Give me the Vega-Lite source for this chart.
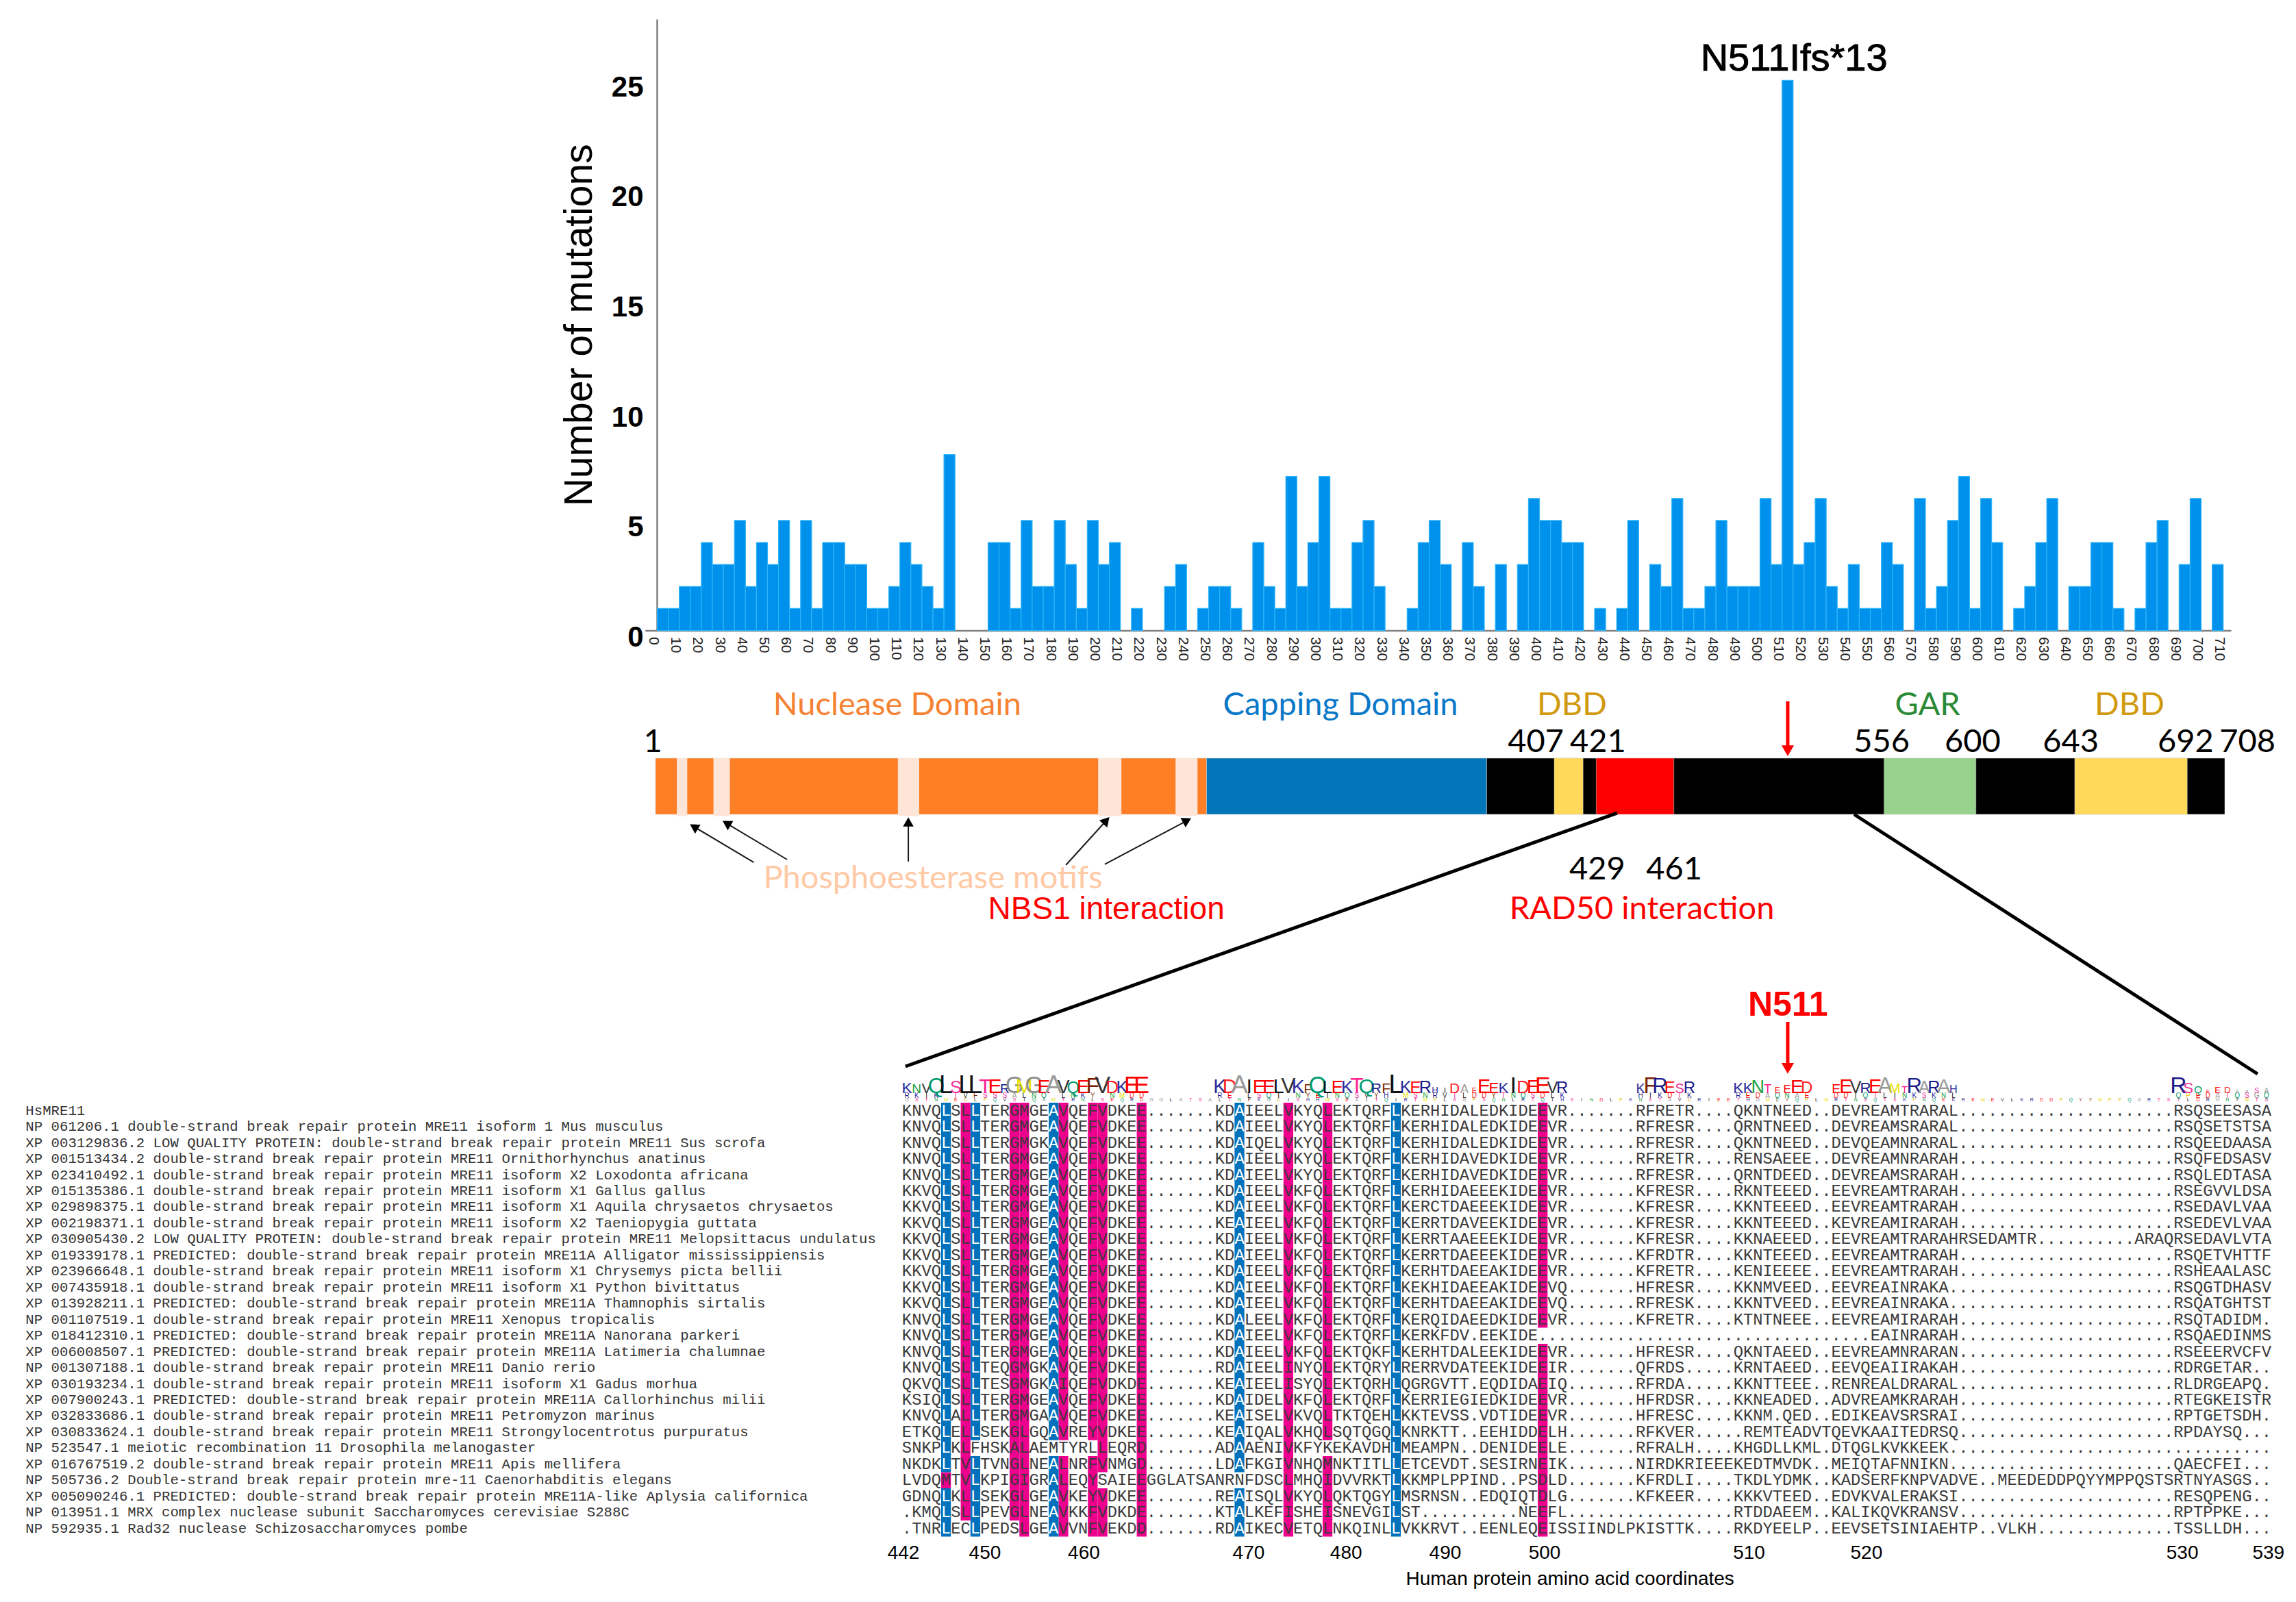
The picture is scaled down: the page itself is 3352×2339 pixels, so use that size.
{
"$schema":"https://vega.github.io/schema/vega-lite/v6.json",
"width":3352,"height":2339,"padding":0,"autosize":{"type":"none"},"background":"white",
"config":{"view":{"stroke":null}},
"datasets":{
"bins":[{"s":2.5,"e":7.5,"n":1},{"s":7.5,"e":12.5,"n":1},{"s":12.5,"e":17.5,"n":2},{"s":17.5,"e":22.5,"n":2},{"s":22.5,"e":27.5,"n":4},{"s":27.5,"e":32.5,"n":3},{"s":32.5,"e":37.5,"n":3},{"s":37.5,"e":42.5,"n":5},{"s":42.5,"e":47.5,"n":2},{"s":47.5,"e":52.5,"n":4},{"s":52.5,"e":57.5,"n":3},{"s":57.5,"e":62.5,"n":5},{"s":62.5,"e":67.5,"n":1},{"s":67.5,"e":72.5,"n":5},{"s":72.5,"e":77.5,"n":1},{"s":77.5,"e":82.5,"n":4},{"s":82.5,"e":87.5,"n":4},{"s":87.5,"e":92.5,"n":3},{"s":92.5,"e":97.5,"n":3},{"s":97.5,"e":102.5,"n":1},{"s":102.5,"e":107.5,"n":1},{"s":107.5,"e":112.5,"n":2},{"s":112.5,"e":117.5,"n":4},{"s":117.5,"e":122.5,"n":3},{"s":122.5,"e":127.5,"n":2},{"s":127.5,"e":132.5,"n":1},{"s":132.5,"e":137.5,"n":8},{"s":152.5,"e":157.5,"n":4},{"s":157.5,"e":162.5,"n":4},{"s":162.5,"e":167.5,"n":1},{"s":167.5,"e":172.5,"n":5},{"s":172.5,"e":177.5,"n":2},{"s":177.5,"e":182.5,"n":2},{"s":182.5,"e":187.5,"n":5},{"s":187.5,"e":192.5,"n":3},{"s":192.5,"e":197.5,"n":1},{"s":197.5,"e":202.5,"n":5},{"s":202.5,"e":207.5,"n":3},{"s":207.5,"e":212.5,"n":4},{"s":217.5,"e":222.5,"n":1},{"s":232.5,"e":237.5,"n":2},{"s":237.5,"e":242.5,"n":3},{"s":247.5,"e":252.5,"n":1},{"s":252.5,"e":257.5,"n":2},{"s":257.5,"e":262.5,"n":2},{"s":262.5,"e":267.5,"n":1},{"s":272.5,"e":277.5,"n":4},{"s":277.5,"e":282.5,"n":2},{"s":282.5,"e":287.5,"n":1},{"s":287.5,"e":292.5,"n":7},{"s":292.5,"e":297.5,"n":2},{"s":297.5,"e":302.5,"n":4},{"s":302.5,"e":307.5,"n":7},{"s":307.5,"e":312.5,"n":1},{"s":312.5,"e":317.5,"n":1},{"s":317.5,"e":322.5,"n":4},{"s":322.5,"e":327.5,"n":5},{"s":327.5,"e":332.5,"n":2},{"s":342.5,"e":347.5,"n":1},{"s":347.5,"e":352.5,"n":4},{"s":352.5,"e":357.5,"n":5},{"s":357.5,"e":362.5,"n":3},{"s":367.5,"e":372.5,"n":4},{"s":372.5,"e":377.5,"n":2},{"s":382.5,"e":387.5,"n":3},{"s":392.5,"e":397.5,"n":3},{"s":397.5,"e":402.5,"n":6},{"s":402.5,"e":407.5,"n":5},{"s":407.5,"e":412.5,"n":5},{"s":412.5,"e":417.5,"n":4},{"s":417.5,"e":422.5,"n":4},{"s":427.5,"e":432.5,"n":1},{"s":437.5,"e":442.5,"n":1},{"s":442.5,"e":447.5,"n":5},{"s":452.5,"e":457.5,"n":3},{"s":457.5,"e":462.5,"n":2},{"s":462.5,"e":467.5,"n":6},{"s":467.5,"e":472.5,"n":1},{"s":472.5,"e":477.5,"n":1},{"s":477.5,"e":482.5,"n":2},{"s":482.5,"e":487.5,"n":5},{"s":487.5,"e":492.5,"n":2},{"s":492.5,"e":497.5,"n":2},{"s":497.5,"e":502.5,"n":2},{"s":502.5,"e":507.5,"n":6},{"s":507.5,"e":512.5,"n":3},{"s":512.5,"e":517.5,"n":25},{"s":517.5,"e":522.5,"n":3},{"s":522.5,"e":527.5,"n":4},{"s":527.5,"e":532.5,"n":6},{"s":532.5,"e":537.5,"n":2},{"s":537.5,"e":542.5,"n":1},{"s":542.5,"e":547.5,"n":3},{"s":547.5,"e":552.5,"n":1},{"s":552.5,"e":557.5,"n":1},{"s":557.5,"e":562.5,"n":4},{"s":562.5,"e":567.5,"n":3},{"s":572.5,"e":577.5,"n":6},{"s":577.5,"e":582.5,"n":1},{"s":582.5,"e":587.5,"n":2},{"s":587.5,"e":592.5,"n":5},{"s":592.5,"e":597.5,"n":7},{"s":597.5,"e":602.5,"n":1},{"s":602.5,"e":607.5,"n":6},{"s":607.5,"e":612.5,"n":4},{"s":617.5,"e":622.5,"n":1},{"s":622.5,"e":627.5,"n":2},{"s":627.5,"e":632.5,"n":4},{"s":632.5,"e":637.5,"n":6},{"s":642.5,"e":647.5,"n":2},{"s":647.5,"e":652.5,"n":2},{"s":652.5,"e":657.5,"n":4},{"s":657.5,"e":662.5,"n":4},{"s":662.5,"e":667.5,"n":1},{"s":672.5,"e":677.5,"n":1},{"s":677.5,"e":682.5,"n":4},{"s":682.5,"e":687.5,"n":5},{"s":692.5,"e":697.5,"n":3},{"s":697.5,"e":702.5,"n":6},{"s":707.5,"e":712.5,"n":3}],
"logo":[{"c":0,"r":"K","h":38},{"c":1,"r":"N","h":32},{"c":2,"r":"V","h":35},{"c":3,"r":"Q","h":52},{"c":4,"r":"L","h":60},{"c":5,"r":"S","h":42},{"c":6,"r":"L","h":62},{"c":7,"r":"L","h":62},{"c":8,"r":"T","h":49},{"c":9,"r":"E","h":50},{"c":10,"r":"R","h":32},{"c":11,"r":"G","h":57},{"c":12,"r":"M","h":50},{"c":13,"r":"G","h":57},{"c":14,"r":"E","h":47},{"c":15,"r":"A","h":62},{"c":16,"r":"V","h":45},{"c":17,"r":"Q","h":40},{"c":18,"r":"E","h":45},{"c":19,"r":"F","h":53},{"c":20,"r":"V","h":57},{"c":21,"r":"D","h":43},{"c":22,"r":"K","h":43},{"c":23,"r":"E","h":57},{"c":24,"r":"E","h":57},{"c":32,"r":"K","h":48},{"c":33,"r":"D","h":48},{"c":34,"r":"A","h":62},{"c":35,"r":"I","h":48},{"c":36,"r":"E","h":47},{"c":37,"r":"E","h":47},{"c":38,"r":"L","h":48},{"c":39,"r":"V","h":53},{"c":40,"r":"K","h":47},{"c":41,"r":"F","h":32},{"c":42,"r":"Q","h":57},{"c":43,"r":"L","h":43},{"c":44,"r":"E","h":43},{"c":45,"r":"K","h":43},{"c":46,"r":"T","h":53},{"c":47,"r":"Q","h":50},{"c":48,"r":"R","h":35},{"c":49,"r":"F","h":35},{"c":50,"r":"L","h":65},{"c":51,"r":"K","h":42},{"c":52,"r":"E","h":40},{"c":53,"r":"R","h":42},{"c":54,"r":"H","h":22},{"c":55,"r":"I","h":18},{"c":56,"r":"D","h":35},{"c":57,"r":"A","h":30},{"c":58,"r":"E","h":18},{"c":59,"r":"E","h":48},{"c":60,"r":"E","h":37},{"c":61,"r":"K","h":38},{"c":62,"r":"I","h":55},{"c":63,"r":"D","h":43},{"c":64,"r":"E","h":45},{"c":65,"r":"E","h":56},{"c":66,"r":"V","h":40},{"c":67,"r":"R","h":40},{"c":75,"r":"K","h":33},{"c":76,"r":"F","h":54},{"c":77,"r":"R","h":52},{"c":78,"r":"E","h":40},{"c":79,"r":"S","h":33},{"c":80,"r":"R","h":40},{"c":85,"r":"K","h":38},{"c":86,"r":"K","h":37},{"c":87,"r":"N","h":45},{"c":88,"r":"T","h":30},{"c":89,"r":"E","h":20},{"c":90,"r":"E","h":28},{"c":91,"r":"E","h":47},{"c":92,"r":"D","h":40},{"c":95,"r":"E","h":32},{"c":96,"r":"E","h":48},{"c":97,"r":"V","h":42},{"c":98,"r":"R","h":37},{"c":99,"r":"E","h":48},{"c":100,"r":"A","h":54},{"c":101,"r":"M","h":33},{"c":102,"r":"T","h":25},{"c":103,"r":"R","h":52},{"c":104,"r":"A","h":42},{"c":105,"r":"R","h":42},{"c":106,"r":"A","h":50},{"c":107,"r":"H","h":27},{"c":130,"r":"R","h":56},{"c":131,"r":"S","h":37},{"c":132,"r":"Q","h":25},{"c":133,"r":"E","h":13},{"c":134,"r":"E","h":22},{"c":135,"r":"D","h":22},{"c":136,"r":"A","h":13},{"c":137,"r":"A","h":13},{"c":138,"r":"S","h":18},{"c":139,"r":"A","h":17}],
"logoMinor":[{"c":0,"r":"R"},{"c":1,"r":"K"},{"c":2,"r":"I"},{"c":3,"r":"K"},{"c":5,"r":"T"},{"c":6,"r":"V"},{"c":7,"r":"F"},{"c":8,"r":"S"},{"c":9,"r":"S"},{"c":10,"r":"S"},{"c":11,"r":"A"},{"c":12,"r":"L"},{"c":13,"r":"N"},{"c":14,"r":"Q"},{"c":16,"r":"L"},{"c":17,"r":"N"},{"c":18,"r":"K"},{"c":19,"r":"Y"},{"c":21,"r":"N"},{"c":22,"r":"M"},{"c":23,"r":"D"},{"c":24,"r":"D"},{"c":32,"r":"R"},{"c":33,"r":"E"},{"c":35,"r":"L"},{"c":36,"r":"S"},{"c":37,"r":"Q"},{"c":38,"r":"I"},{"c":40,"r":"N"},{"c":41,"r":"Y"},{"c":42,"r":"E"},{"c":43,"r":"I"},{"c":44,"r":"N"},{"c":45,"r":"Q"},{"c":46,"r":"S"},{"c":47,"r":"V"},{"c":48,"r":"Y"},{"c":49,"r":"H"},{"c":51,"r":"M"},{"c":52,"r":"S"},{"c":53,"r":"N"},{"c":54,"r":"R"},{"c":55,"r":"V"},{"c":56,"r":"T"},{"c":57,"r":"L"},{"c":58,"r":"D"},{"c":59,"r":"D"},{"c":60,"r":"Y"},{"c":61,"r":"T"},{"c":62,"r":"N"},{"c":63,"r":"Q"},{"c":64,"r":"S"},{"c":65,"r":"D"},{"c":66,"r":"L"},{"c":67,"r":"K"},{"c":75,"r":"H"},{"c":76,"r":"I"},{"c":77,"r":"K"},{"c":78,"r":"D"},{"c":79,"r":"T"},{"c":80,"r":"K"},{"c":85,"r":"R"},{"c":86,"r":"E"},{"c":87,"r":"D"},{"c":88,"r":"A"},{"c":89,"r":"Q"},{"c":90,"r":"N"},{"c":91,"r":"A"},{"c":92,"r":"E"},{"c":95,"r":"D"},{"c":96,"r":"D"},{"c":97,"r":"I"},{"c":98,"r":"Q"},{"c":99,"r":"T"},{"c":100,"r":"L"},{"c":101,"r":"I"},{"c":102,"r":"N"},{"c":103,"r":"K"},{"c":104,"r":"S"},{"c":105,"r":"K"},{"c":106,"r":"N"},{"c":107,"r":"L"},{"c":130,"r":"Q"},{"c":131,"r":"P"},{"c":132,"r":"E"},{"c":133,"r":"D"},{"c":134,"r":"A"},{"c":135,"r":"T"},{"c":136,"r":"Q"},{"c":137,"r":"S"},{"c":138,"r":"G"},{"c":139,"r":"Q"}],
"logoTiny":[{"c":0,"r":"G"},{"c":1,"r":"S"},{"c":2,"r":"T"},{"c":3,"r":"N"},{"c":4,"r":"M"},{"c":5,"r":"E"},{"c":6,"r":"C"},{"c":7,"r":"L"},{"c":8,"r":"P"},{"c":9,"r":"Q"},{"c":10,"r":"V"},{"c":11,"r":"S"},{"c":12,"r":"I"},{"c":13,"r":"Q"},{"c":14,"r":"A"},{"c":15,"r":"M"},{"c":16,"r":"T"},{"c":17,"r":"R"},{"c":18,"r":"N"},{"c":19,"r":"L"},{"c":20,"r":"S"},{"c":21,"r":"E"},{"c":22,"r":"Q"},{"c":23,"r":"R"},{"c":24,"r":"D"},{"c":25,"r":"G"},{"c":26,"r":"G"},{"c":27,"r":"L"},{"c":28,"r":"A"},{"c":29,"r":"T"},{"c":30,"r":"S"},{"c":31,"r":"A"},{"c":32,"r":"L"},{"c":33,"r":"T"},{"c":34,"r":"N"},{"c":35,"r":"F"},{"c":36,"r":"K"},{"c":37,"r":"G"},{"c":38,"r":"C"},{"c":39,"r":"I"},{"c":40,"r":"S"},{"c":41,"r":"H"},{"c":42,"r":"H"},{"c":43,"r":"M"},{"c":44,"r":"S"},{"c":45,"r":"E"},{"c":46,"r":"A"},{"c":47,"r":"I"},{"c":48,"r":"T"},{"c":49,"r":"Q"},{"c":50,"r":"I"},{"c":51,"r":"R"},{"c":52,"r":"T"},{"c":53,"r":"M"},{"c":54,"r":"P"},{"c":55,"r":"L"},{"c":56,"r":"S"},{"c":57,"r":"G"},{"c":58,"r":"P"},{"c":59,"r":"S"},{"c":60,"r":"Q"},{"c":61,"r":"N"},{"c":62,"r":"L"},{"c":63,"r":"R"},{"c":64,"r":"T"},{"c":65,"r":"Q"},{"c":66,"r":"I"},{"c":67,"r":"H"},{"c":68,"r":"S"},{"c":69,"r":"I"},{"c":70,"r":"N"},{"c":71,"r":"D"},{"c":72,"r":"L"},{"c":73,"r":"P"},{"c":74,"r":"K"},{"c":75,"r":"N"},{"c":76,"r":"S"},{"c":77,"r":"T"},{"c":78,"r":"A"},{"c":79,"r":"V"},{"c":80,"r":"C"},{"c":81,"r":"R"},{"c":82,"r":"I"},{"c":83,"r":"E"},{"c":84,"r":"E"},{"c":85,"r":"T"},{"c":86,"r":"H"},{"c":87,"r":"G"},{"c":88,"r":"M"},{"c":89,"r":"L"},{"c":90,"r":"Y"},{"c":91,"r":"Q"},{"c":92,"r":"P"},{"c":93,"r":"L"},{"c":94,"r":"M"},{"c":95,"r":"R"},{"c":96,"r":"T"},{"c":97,"r":"N"},{"c":98,"r":"S"},{"c":99,"r":"Q"},{"c":100,"r":"T"},{"c":101,"r":"S"},{"c":102,"r":"K"},{"c":103,"r":"P"},{"c":104,"r":"N"},{"c":105,"r":"Q"},{"c":106,"r":"E"},{"c":107,"r":"K"},{"c":108,"r":"R"},{"c":109,"r":"E"},{"c":110,"r":"M"},{"c":111,"r":"E"},{"c":112,"r":"V"},{"c":113,"r":"L"},{"c":114,"r":"K"},{"c":115,"r":"R"},{"c":116,"r":"D"},{"c":117,"r":"D"},{"c":118,"r":"P"},{"c":119,"r":"Q"},{"c":120,"r":"Y"},{"c":121,"r":"Y"},{"c":122,"r":"M"},{"c":123,"r":"P"},{"c":124,"r":"P"},{"c":125,"r":"Q"},{"c":126,"r":"A"},{"c":127,"r":"R"},{"c":128,"r":"T"},{"c":129,"r":"S"},{"c":130,"r":"T"},{"c":131,"r":"L"},{"c":132,"r":"D"},{"c":133,"r":"R"},{"c":134,"r":"G"},{"c":135,"r":"N"},{"c":136,"r":"Y"},{"c":137,"r":"M"},{"c":138,"r":"T"},{"c":139,"r":"S"}],
"blueCells":[{"c":4,"r":0,"a":"L"},{"c":4,"r":1,"a":"L"},{"c":4,"r":2,"a":"L"},{"c":4,"r":3,"a":"L"},{"c":4,"r":4,"a":"L"},{"c":4,"r":5,"a":"L"},{"c":4,"r":6,"a":"L"},{"c":4,"r":7,"a":"L"},{"c":4,"r":8,"a":"L"},{"c":4,"r":9,"a":"L"},{"c":4,"r":10,"a":"L"},{"c":4,"r":11,"a":"L"},{"c":4,"r":12,"a":"L"},{"c":4,"r":13,"a":"L"},{"c":4,"r":14,"a":"L"},{"c":4,"r":15,"a":"L"},{"c":4,"r":16,"a":"L"},{"c":4,"r":17,"a":"L"},{"c":4,"r":18,"a":"L"},{"c":4,"r":19,"a":"L"},{"c":4,"r":20,"a":"L"},{"c":4,"r":21,"a":"L"},{"c":4,"r":22,"a":"L"},{"c":4,"r":24,"a":"L"},{"c":4,"r":25,"a":"L"},{"c":4,"r":26,"a":"L"},
{"c":7,"r":0,"a":"L"},{"c":7,"r":1,"a":"L"},{"c":7,"r":2,"a":"L"},{"c":7,"r":3,"a":"L"},{"c":7,"r":4,"a":"L"},{"c":7,"r":5,"a":"L"},{"c":7,"r":6,"a":"L"},{"c":7,"r":7,"a":"L"},{"c":7,"r":8,"a":"L"},{"c":7,"r":9,"a":"L"},{"c":7,"r":10,"a":"L"},{"c":7,"r":11,"a":"L"},{"c":7,"r":12,"a":"L"},{"c":7,"r":13,"a":"L"},{"c":7,"r":14,"a":"L"},{"c":7,"r":15,"a":"L"},{"c":7,"r":16,"a":"L"},{"c":7,"r":17,"a":"L"},{"c":7,"r":18,"a":"L"},{"c":7,"r":19,"a":"L"},{"c":7,"r":20,"a":"L"},{"c":7,"r":22,"a":"L"},{"c":7,"r":23,"a":"L"},{"c":7,"r":24,"a":"L"},{"c":7,"r":25,"a":"L"},{"c":7,"r":26,"a":"L"},
{"c":15,"r":0,"a":"A"},{"c":15,"r":1,"a":"A"},{"c":15,"r":2,"a":"A"},{"c":15,"r":3,"a":"A"},{"c":15,"r":4,"a":"A"},{"c":15,"r":5,"a":"A"},{"c":15,"r":6,"a":"A"},{"c":15,"r":7,"a":"A"},{"c":15,"r":8,"a":"A"},{"c":15,"r":9,"a":"A"},{"c":15,"r":10,"a":"A"},{"c":15,"r":11,"a":"A"},{"c":15,"r":12,"a":"A"},{"c":15,"r":13,"a":"A"},{"c":15,"r":14,"a":"A"},{"c":15,"r":15,"a":"A"},{"c":15,"r":16,"a":"A"},{"c":15,"r":17,"a":"A"},{"c":15,"r":18,"a":"A"},{"c":15,"r":19,"a":"A"},{"c":15,"r":20,"a":"A"},{"c":15,"r":22,"a":"A"},{"c":15,"r":23,"a":"A"},{"c":15,"r":24,"a":"A"},{"c":15,"r":25,"a":"A"},{"c":15,"r":26,"a":"A"},
{"c":34,"r":0,"a":"A"},{"c":34,"r":1,"a":"A"},{"c":34,"r":2,"a":"A"},{"c":34,"r":3,"a":"A"},{"c":34,"r":4,"a":"A"},{"c":34,"r":5,"a":"A"},{"c":34,"r":6,"a":"A"},{"c":34,"r":7,"a":"A"},{"c":34,"r":8,"a":"A"},{"c":34,"r":9,"a":"A"},{"c":34,"r":10,"a":"A"},{"c":34,"r":11,"a":"A"},{"c":34,"r":12,"a":"A"},{"c":34,"r":13,"a":"A"},{"c":34,"r":14,"a":"A"},{"c":34,"r":15,"a":"A"},{"c":34,"r":16,"a":"A"},{"c":34,"r":17,"a":"A"},{"c":34,"r":18,"a":"A"},{"c":34,"r":19,"a":"A"},{"c":34,"r":20,"a":"A"},{"c":34,"r":21,"a":"A"},{"c":34,"r":22,"a":"A"},{"c":34,"r":24,"a":"A"},{"c":34,"r":25,"a":"A"},{"c":34,"r":26,"a":"A"},
{"c":50,"r":0,"a":"L"},{"c":50,"r":1,"a":"L"},{"c":50,"r":2,"a":"L"},{"c":50,"r":3,"a":"L"},{"c":50,"r":4,"a":"L"},{"c":50,"r":5,"a":"L"},{"c":50,"r":6,"a":"L"},{"c":50,"r":7,"a":"L"},{"c":50,"r":8,"a":"L"},{"c":50,"r":9,"a":"L"},{"c":50,"r":10,"a":"L"},{"c":50,"r":11,"a":"L"},{"c":50,"r":12,"a":"L"},{"c":50,"r":13,"a":"L"},{"c":50,"r":14,"a":"L"},{"c":50,"r":15,"a":"L"},{"c":50,"r":16,"a":"L"},{"c":50,"r":17,"a":"L"},{"c":50,"r":18,"a":"L"},{"c":50,"r":19,"a":"L"},{"c":50,"r":20,"a":"L"},{"c":50,"r":21,"a":"L"},{"c":50,"r":22,"a":"L"},{"c":50,"r":23,"a":"L"},{"c":50,"r":24,"a":"L"},{"c":50,"r":25,"a":"L"},{"c":50,"r":26,"a":"L"}],
"seqs":[
{"r":0,"name":"HsMRE11","seq":"KNVQLSLLTERGMGEAVQEFVDKEE.......KDAIEELVKYQLEKTQRFLKERHIDALEDKIDEEVR.......RFRETR....QKNTNEED..DEVREAMTRARAL......................RSQSEESASA"},
{"r":1,"name":"NP 061206.1 double-strand break repair protein MRE11 isoform 1 Mus musculus","seq":"KNVQLSLLTERGMGEAVQEFVDKEE.......KDAIEELVKYQLEKTQRFLKERHIDALEDKIDEEVR.......RFRESR....QRNTNEED..DEVREAMSRARAL......................RSQSETSTSA"},
{"r":2,"name":"XP 003129836.2 LOW QUALITY PROTEIN: double-strand break repair protein MRE11 Sus scrofa","seq":"KNVQLSLLTERGMGKAVQEFVDKEE.......KDAIQELVKYQLEKTQRFLKERHIDALEDKIDEEVR.......RFRESR....QKNTNEED..DEVQEAMNRARAL......................RSQEEDAASA"},
{"r":3,"name":"XP 001513434.2 double-strand break repair protein MRE11 Ornithorhynchus anatinus","seq":"KNVQLSLLTERGMGEAVQEFVDKEE.......KDAIEELVKYQLEKTQRFLKERHIDAVEDKIDEEVR.......RFRETR....RENSAEEE..DEVREAMNRARAH......................RSQFEDSASV"},
{"r":4,"name":"XP 023410492.1 double-strand break repair protein MRE11 isoform X2 Loxodonta africana","seq":"KNVQLSLLTERGMGEAVQEFVDKEE.......KDAIEELVKYQLEKTQRFLKERHIDAVEDKIDEEVR.......RFRESR....QRNTDEED..DEVREAMSRARAH......................RSQLEDTASA"},
{"r":5,"name":"XP 015135386.1 double-strand break repair protein MRE11 isoform X1 Gallus gallus","seq":"KKVQLSLLTERGMGEAVQEFVDKEE.......KDAIEELVKFQLEKTQRFLKERHIDAEEEKIDEEVR.......KFRESR....RKNTEEED..EEVREAMTRARAH......................RSEGVVLDSA"},
{"r":6,"name":"XP 029898375.1 double-strand break repair protein MRE11 isoform X1 Aquila chrysaetos chrysaetos","seq":"KKVQLSLLTERGMGEAVQEFVDKEE.......KDAIEELVKFQLEKTQRFLKERCTDAEEEKIDEEVR.......KFRESR....KKNTEEED..EEVREAMTRARAH......................RSEDAVLVAA"},
{"r":7,"name":"XP 002198371.1 double-strand break repair protein MRE11 isoform X2 Taeniopygia guttata","seq":"KKVQLSLLTERGMGEAVQEFVDKEE.......KEAIEELVKFQLEKTQRFLKERRTDAVEEKIDEEVR.......KFRESR....KKNTEEED..KEVREAMIRARAH......................RSEDEVLVAA"},
{"r":8,"name":"XP 030905430.2 LOW QUALITY PROTEIN: double-strand break repair protein MRE11 Melopsittacus undulatus","seq":"KKVQLSLLTERGMGEAVQEFVDKEE.......KDAIEELVKFQLEKTQRFLKERRTAAEEEKIDEEVR.......KFRESR....KKNAEEED..EEVREAMTRARAHRSEDAMTR..........ARAQRSEDAVLVTA"},
{"r":9,"name":"XP 019339178.1 PREDICTED: double-strand break repair protein MRE11A Alligator mississippiensis","seq":"KKVQLSLLTERGMGEAVQEFVDKEE.......KDAIEELVKFQLEKTQRFLKERRTDAEEEKIDEEVR.......KFRDTR....KKNTEEED..EEVREAMTRARAH......................RSQETVHTTF"},
{"r":10,"name":"XP 023966648.1 double-strand break repair protein MRE11 isoform X1 Chrysemys picta bellii","seq":"KKVQLSLLTERGMGEAVQEFVDKEE.......KDAIEELVKFQLEKTQRFLKERHTDAEEAKIDEEVR.......KFRETR....KENIEEEE..EEVREAMTRARAH......................RSHEAALASC"},
{"r":11,"name":"XP 007435918.1 double-strand break repair protein MRE11 isoform X1 Python bivittatus","seq":"KKVQLSLLTERGMGEAVQEFVDKEE.......KDAIEELVKFQLEKTQRFLKEKHIDAEEAKIDEEVQ.......HFRESR....KKNMVEED..EEVREAINRAKA.......................RSQGTDHASV"},
{"r":12,"name":"XP 013928211.1 PREDICTED: double-strand break repair protein MRE11A Thamnophis sirtalis","seq":"KKVQLSLLTERGMGEAVQEFVDKEE.......KDAIEELVKFQLEKTQRFLKERHTDAEEAKIDEEVQ.......RFRESK....KKNTVEED..EEVREAINRAKA.......................RSQATGHTST"},
{"r":13,"name":"NP 001107519.1 double-strand break repair protein MRE11 Xenopus tropicalis","seq":"KNVQLSLLTERGMGEAVQEFVDKEE.......KDALEELVKFQLEKTQRFLKERQIDAEEDKIDEEVR.......KFRETR....KTNTNEEE..EEVREAMIRARAH......................RSQTADIDM."},
{"r":14,"name":"XP 018412310.1 PREDICTED: double-strand break repair protein MRE11A Nanorana parkeri","seq":"KNVQLSLLTERGMGEAVQEFVDKEE.......KDAIEELVKFQLEKTQRFLKERKFDV.EEKIDE..................................EAINRARAH......................RSQAEDINMS"},
{"r":15,"name":"XP 006008507.1 PREDICTED: double-strand break repair protein MRE11A Latimeria chalumnae","seq":"KNVQLSLLTERGMGEAVQEFVDKEE.......KDAIEELVKFQLEKTQKFLKERHTDALEEKIDEEVR.......HFRESR....QKNTAEED..EEVREAMNRARAN......................RSEEERVCFV"},
{"r":16,"name":"NP 001307188.1 double-strand break repair protein MRE11 Danio rerio","seq":"KNVQLSLLTEQGMGKAVQEFVDKEE.......RDAIEELINYQLEKTQRYLRERRVDATEEKIDEEIR.......QFRDS.....KRNTAEED..EEVQEAIIRAKAH......................RDRGETAR.."},
{"r":17,"name":"XP 030193234.1 double-strand break repair protein MRE11 isoform X1 Gadus morhua","seq":"QKVQLSLLTESGMGKAIQEFVDKDE.......KEAIEELISYQLEKTQRHLQGRGVTT.EQDIDAEIQ.......RFRDA.....KKNTTEEE..RENREALDRARAL......................RLDRGEAPQ."},
{"r":18,"name":"XP 007900243.1 PREDICTED: double-strand break repair protein MRE11A Callorhinchus milii","seq":"KSIQLSLLTERGMGEAVQEFVDKEE.......KDAIDELVKFQLEKTQRFLKERRIEGIEDKIDEEVR.......HFRDSR....KKNEADED..ADVREAMKRARAH......................RTEGKEISTR"},
{"r":19,"name":"XP 032833686.1 double-strand break repair protein MRE11 Petromyzon marinus","seq":"KNVQLALLTERGMGAAVQEFVDKEE.......KEAISELVKVQLTKTQEHLKKTEVSS.VDTIDEEVR.......HFRESC....KKNM.QED..EDIKEAVSRSRAI......................RPTGETSDH."},
{"r":20,"name":"XP 030833624.1 double-strand break repair protein MRE11 Strongylocentrotus purpuratus","seq":"ETKQLELLSEKGLGQAVREYVDKEE.......KEAIQALVKHQLSQTQGQLKNRKTT..EEHIDDELH.......RFKVER.....REMTEADVTQEVKAAITEDRSQ......................RPDAYSQ..."},
{"r":21,"name":"NP 523547.1 meiotic recombination 11 Drosophila melanogaster","seq":"SNKPLKLFHSKALAEMTYRLLEQRD.......ADAAENIVKFYKEKAVDHLMEAMPN..DENIDEELE.......RFRALH....KHGDLLKML.DTQGLKVKKEEK................................."},
{"r":22,"name":"XP 016767519.2 double-strand break repair protein MRE11 Apis mellifera","seq":"NKDKLTVLTVNGLNEALNRFVNMGD.......LDAFKGIVNHQMNKTITLLETCEVDT.SESIRNEIK.......NIRDKRIEEEKEDTMVDK..MEIQTAFNNIKN.......................QAECFEI..."},
{"r":23,"name":"NP 505736.2 Double-strand break repair protein mre-11 Caenorhabditis elegans","seq":"LVDQMTVLKPIGIGRALEQYSAIEEGGLATSANRNFDSCLMHQIDVVRKTLKKMPLPPIND..PSDLD.......KFRDLI....TKDLYDMK..KADSERFKNPVADVE..MEEDEDDPQYYMPPQSTSRTNYASGS.."},
{"r":24,"name":"XP 005090246.1 PREDICTED: double-strand break repair protein MRE11A-like Aplysia californica","seq":"GDNQLKLLSEKGLGEAVKEYVDKEE.......REAISQLVKYQLQKTQGYLMSRNSN..EDQIQTDLG.......KFKEER....KKKVTEED..EDVKVALERAKSI......................RESQPENG.."},
{"r":25,"name":"NP 013951.1 MRX complex nuclease subunit Saccharomyces cerevisiae S288C","seq":".KMQLSLLPEVGLNEAVKKFVDKDE.......KTALKEFISHEISNEVGILST..........NEEFL.................RTDDAEEM..KALIKQVKRANSV......................RPTPPKE..."},
{"r":26,"name":"NP 592935.1 Rad32 nuclease Schizosaccharomyces pombe","seq":".TNRLECLPEDSLGEAVVNFVEKDD.......RDAIKECVETQLNKQINLLVKKRVT..EENLEQEISSIINDLPKISTTK....RKDYEELP..EEVSETSINIAEHTP..VLKH..............TSSLLDH..."}]
},
"layer":[
{"data":{"name":"bins"},"mark":{"type":"rect","fill":"#0091EC","stroke":"#2FB4F7","strokeWidth":1.2},
  "encoding":{
   "x":{"field":"s","type":"quantitative","scale":{"domain":[-3,716],"range":[941.8,3257],"nice":false,"zero":false},
    "axis":{"values":[0,10,20,30,40,50,60,70,80,90,100,110,120,130,140,150,160,170,180,190,200,210,220,230,240,250,260,270,280,290,300,310,320,330,340,350,360,370,380,390,400,410,420,430,440,450,460,470,480,490,500,510,520,530,540,550,560,570,580,590,600,610,620,630,640,650,660,670,680,690,700,710],"title":null,"grid":false,"orient":"bottom","offset":-1418.4,"labelAngle":90,"labelFont":"Liberation Sans","labelFontSize":21,"labelColor":"#222222","labelPadding":9,"labelOffset":2,"labelOverlap":false,"labelBound":false,"labelFlush":false,"tickSize":0,"ticks":false,"domainColor":"#808080","domainWidth":2.5}},
   "x2":{"field":"e"},
   "y":{"field":"n","type":"quantitative","scale":{"domain":[0,27.78],"range":[920.6,28],"nice":false,"zero":false},
    "axis":{"values":[0,5,10,15,20,25],"title":"Number of mutations","titleFont":"Liberation Sans","titleFontSize":57,"titleFontWeight":"normal","titleColor":"#000000","titlePadding":17,"grid":false,"orient":"left","offset":-959,"labelFont":"Liberation Sans","labelFontSize":42,"labelFontWeight":"bold","labelColor":"#000000","labelPadding":20,"labelOffset":10,"labelOverlap":false,"labelBound":false,"labelFlush":false,"tickSize":0,"ticks":false,"domainColor":"#808080","domainWidth":2.5}},
   "y2":{"datum":0}}},
{"data":{"values":[{"label":"N511Ifs*13","pos":517.9,"count":25.97}]},"mark":{"type":"text","font":"Liberation Sans","fontSize":56,"color":"#000000","stroke":"#000000","strokeWidth":1,"align":"center","baseline":"middle"},
  "encoding":{"x":{"field":"pos","type":"quantitative","scale":{"domain":[-3,716],"range":[941.8,3257],"nice":false,"zero":false},"axis":null},"y":{"field":"count","type":"quantitative","scale":{"domain":[0,27.78],"range":[920.6,28],"nice":false,"zero":false},"axis":null},"text":{"field":"label"}}},
{"layer":[
 {"data":{"values":[{"start":375.4,"end":708,"kind":"other"},{"start":1,"end":249.3,"kind":"nuclease"},{"start":249.3,"end":375.4,"kind":"capping"},{"start":405.9,"end":418.9,"kind":"dbd"},{"start":424.8,"end":459.8,"kind":"rad50"},{"start":554.5,"end":595.9,"kind":"gar"},{"start":640.4,"end":691.1,"kind":"dbd"}]},
  "mark":{"type":"rect","stroke":"#d0d0d0","strokeWidth":0.5},
  "encoding":{"x":{"field":"start","type":"quantitative","scale":{"domain":[1,708],"range":[957,3248],"nice":false,"zero":false},"axis":null},"x2":{"field":"end"},
   "y":{"datum":0,"scale":{"domain":[0,1],"range":[1189,1107],"nice":false,"zero":false},"axis":null},"y2":{"datum":1},
   "color":{"field":"kind","type":"nominal","scale":{"domain":["other","nuclease","capping","dbd","rad50","gar"],"range":["#000000","#FF7F27","#0075B8","#FFD95A","#FF0000","#98D28C"]},"legend":null}}},
 {"data":{"values":[{"start":10.6,"end":15.3},{"start":27.1,"end":34.5},{"start":110.2,"end":119.8},{"start":200.4,"end":210.9},{"start":235.3,"end":245.2}]},
  "mark":{"type":"rect","fill":"#FFE5D8"},
  "encoding":{"x":{"field":"start","type":"quantitative","scale":{"domain":[1,708],"range":[957,3248],"nice":false,"zero":false},"axis":null},"x2":{"field":"end"},
   "y":{"datum":-0.03,"scale":{"domain":[0,1],"range":[1189,1107],"nice":false,"zero":false},"axis":null},"y2":{"datum":1}}},
 {"data":{"values":[{"x0":434.2,"x1":113.6,"y0":0.024,"y1":-4.488},{"x0":541.0,"x1":722.8,"y0":0,"y1":-4.622}]},
  "mark":{"type":"rule","color":"#000000","strokeWidth":5},
  "encoding":{"x":{"field":"x0","type":"quantitative","scale":{"domain":[1,708],"range":[957,3248],"nice":false,"zero":false},"axis":null},"x2":{"field":"x1"},
   "y":{"field":"y0","type":"quantitative","scale":{"domain":[0,1],"range":[1189,1107],"nice":false,"zero":false},"axis":null},"y2":{"field":"y1"}}},
 {"data":{"values":[{"x0":45.3,"x1":18.3,"y0":-0.854,"y1":-0.22,"bearing":-59},{"x0":60.3,"x1":33.0,"y0":-0.805,"y1":-0.159,"bearing":-59},{"x0":114.9,"x1":114.9,"y0":-0.841,"y1":-0.134,"bearing":0},{"x0":185.9,"x1":204.1,"y0":-0.902,"y1":-0.11,"bearing":42},{"x0":203.4,"x1":240.5,"y0":-0.89,"y1":-0.11,"bearing":62}]},
  "layer":[
   {"mark":{"type":"rule","color":"#1a1a1a","strokeWidth":2},
    "encoding":{"x":{"field":"x0","type":"quantitative","scale":{"domain":[1,708],"range":[957,3248],"nice":false,"zero":false},"axis":null},"x2":{"field":"x1"},
     "y":{"field":"y0","type":"quantitative","scale":{"domain":[0,1],"range":[1189,1107],"nice":false,"zero":false},"axis":null},"y2":{"field":"y1"}}},
   {"mark":{"type":"point","shape":"triangle-up","filled":true,"color":"#000000","opacity":1,"size":240,"strokeWidth":0},
    "encoding":{"x":{"field":"x1","type":"quantitative","scale":{"domain":[1,708],"range":[957,3248],"nice":false,"zero":false},"axis":null},
     "y":{"field":"y1","type":"quantitative","scale":{"domain":[0,1],"range":[1189,1107],"nice":false,"zero":false},"axis":null},"angle":{"field":"bearing","type":"quantitative","scale":null}}}
  ]},
 {"data":{"values":[{"x0":511.1,"y0":2.012,"y1":1.134},{"x0":511.1,"y0":-3.695,"y1":-4.524}]},
  "layer":[
   {"mark":{"type":"rule","color":"#FF0000","strokeWidth":5},
    "encoding":{"x":{"field":"x0","type":"quantitative","scale":{"domain":[1,708],"range":[957,3248],"nice":false,"zero":false},"axis":null},
     "y":{"field":"y0","type":"quantitative","scale":{"domain":[0,1],"range":[1189,1107],"nice":false,"zero":false},"axis":null},"y2":{"field":"y1"}}},
   {"mark":{"type":"point","shape":"triangle-down","filled":true,"color":"#FF0000","opacity":1,"size":330,"strokeWidth":0},
    "encoding":{"x":{"field":"x0","type":"quantitative","scale":{"domain":[1,708],"range":[957,3248],"nice":false,"zero":false},"axis":null},
     "y":{"field":"y1","type":"quantitative","scale":{"domain":[0,1],"range":[1189,1107],"nice":false,"zero":false},"axis":null}}}
  ]},
 {"data":{"values":[{"t":"Nuclease Domain","pos":109.9,"level":1.939,"g":"nuclease"},{"t":"Capping Domain","pos":309.6,"level":1.939,"g":"capping"},{"t":"DBD","pos":413.9,"level":1.939,"g":"dbd"},{"t":"GAR","pos":574.1,"level":1.939,"g":"gar"},{"t":"DBD","pos":665.1,"level":1.939,"g":"dbd"},{"t":"Phosphoesterase motifs","pos":126,"level":-1.146,"g":"motif"},{"t":"RAD50 interaction","pos":445.4,"level":-1.695,"g":"rad50"},{"t":"1","pos":-0.2,"level":1.28,"g":"num"},{"t":"407","pos":397.6,"level":1.28,"g":"num"},{"t":"421","pos":425.6,"level":1.28,"g":"num"},{"t":"556","pos":553.4,"level":1.28,"g":"num"},{"t":"600","pos":594.4,"level":1.28,"g":"num"},{"t":"643","pos":638.6,"level":1.28,"g":"num"},{"t":"692","pos":690.4,"level":1.28,"g":"num"},{"t":"708","pos":718.2,"level":1.28,"g":"num"},{"t":"429","pos":425.3,"level":-0.988,"g":"num"},{"t":"461","pos":459.9,"level":-0.988,"g":"num"}]},
  "mark":{"type":"text","font":"Lato","fontSize":47,"align":"center","baseline":"middle"},
  "encoding":{"x":{"field":"pos","type":"quantitative","scale":{"domain":[1,708],"range":[957,3248],"nice":false,"zero":false},"axis":null},
   "y":{"field":"level","type":"quantitative","scale":{"domain":[0,1],"range":[1189,1107],"nice":false,"zero":false},"axis":null},"text":{"field":"t"},
   "fill":{"field":"g","type":"nominal","scale":{"domain":["nuclease","capping","dbd","gar","motif","rad50","num"],"range":["#F58233","#0A78C8","#D19A0E","#2A8A35","#FFC9A5","#FF0000","#000000"]},"legend":null}}},
 {"data":{"values":[{"t":"NBS1 interaction","pos":204.1,"level":-1.695}]},
  "mark":{"type":"text","font":"Liberation Sans","fontSize":46,"align":"center","baseline":"middle","color":"#FF0000"},
  "encoding":{"x":{"field":"pos","type":"quantitative","scale":{"domain":[1,708],"range":[957,3248],"nice":false,"zero":false},"axis":null},
   "y":{"field":"level","type":"quantitative","scale":{"domain":[0,1],"range":[1189,1107],"nice":false,"zero":false},"axis":null},"text":{"field":"t"}}},
 {"data":{"values":[{"t":"N511","pos":511.2,"level":-3.402}]},
  "mark":{"type":"text","font":"Liberation Sans","fontSize":50,"fontWeight":"bold","align":"center","baseline":"middle","color":"#FF0000"},
  "encoding":{"x":{"field":"pos","type":"quantitative","scale":{"domain":[1,708],"range":[957,3248],"nice":false,"zero":false},"axis":null},
   "y":{"field":"level","type":"quantitative","scale":{"domain":[0,1],"range":[1189,1107],"nice":false,"zero":false},"axis":null},"text":{"field":"t"}}}
]},
{"layer":[
 {"data":{"values":[{"c0":3.5,"c1":4.5,"r0":22.5,"r1":23.5},{"c0":5.5,"c1":6.5,"r0":-0.5,"r1":25.5},{"c0":10.5,"c1":11.5,"r0":-0.5,"r1":25.5},{"c0":11.5,"c1":12.5,"r0":-0.5,"r1":26.5},{"c0":15.5,"c1":16.5,"r0":-0.5,"r1":20.5},{"c0":15.5,"c1":16.5,"r0":21.5,"r1":26.5},{"c0":18.5,"c1":19.5,"r0":-0.5,"r1":20.5},{"c0":18.5,"c1":19.5,"r0":21.5,"r1":26.5},{"c0":19.5,"c1":20.5,"r0":-0.5,"r1":22.5},{"c0":19.5,"c1":20.5,"r0":23.5,"r1":26.5},{"c0":23.5,"c1":24.5,"r0":-0.5,"r1":26.5},{"c0":38.5,"c1":39.5,"r0":-0.5,"r1":26.5},{"c0":42.5,"c1":43.5,"r0":-0.5,"r1":20.5},{"c0":42.5,"c1":43.5,"r0":21.5,"r1":26.5},{"c0":64.5,"c1":65.5,"r0":-0.5,"r1":13.5},{"c0":64.5,"c1":65.5,"r0":14.5,"r1":26.5}]},
  "mark":{"type":"rect","fill":"#EC008C"},
  "encoding":{"x":{"field":"c0","type":"quantitative","scale":{"domain":[-0.5,139.5],"range":[1316.86,3316.06],"nice":false,"zero":false},"axis":null},"x2":{"field":"c1"},
   "y":{"field":"r0","type":"quantitative","scale":{"domain":[-0.5,26.5],"range":[1610,2243.4],"nice":false,"zero":false},"axis":null},"y2":{"field":"r1"}}},
 {"data":{"name":"seqs"},"mark":{"type":"text","font":"Liberation Mono","fontSize":23.8,"align":"left","baseline":"middle","color":"#3a3a3a"},
  "encoding":{"x":{"datum":-0.5,"scale":{"domain":[-0.5,139.5],"range":[1316.86,3316.06],"nice":false,"zero":false},"axis":null},
   "y":{"field":"r","type":"quantitative","scale":{"domain":[-0.5,26.5],"range":[1610,2243.4],"nice":false,"zero":false},"axis":null},"text":{"field":"seq"}}},
 {"data":{"name":"seqs"},"mark":{"type":"text","font":"Liberation Mono","fontSize":20.7,"align":"left","baseline":"middle","color":"#333333"},
  "encoding":{"x":{"datum":-90.1,"scale":{"domain":[-0.5,139.5],"range":[1316.86,3316.06],"nice":false,"zero":false},"axis":null},
   "y":{"field":"r","type":"quantitative","scale":{"domain":[-0.5,26.5],"range":[1610,2243.4],"nice":false,"zero":false},"axis":null},"text":{"field":"name"}}},
 {"data":{"values":[{"c0":3.5,"c1":4.5,"r0":-0.5,"r1":22.5},{"c0":3.5,"c1":4.5,"r0":23.5,"r1":26.5},{"c0":6.5,"c1":7.5,"r0":-0.5,"r1":20.5},{"c0":6.5,"c1":7.5,"r0":21.5,"r1":26.5},{"c0":14.5,"c1":15.5,"r0":-0.5,"r1":20.5},{"c0":14.5,"c1":15.5,"r0":21.5,"r1":26.5},{"c0":33.5,"c1":34.5,"r0":-0.5,"r1":22.5},{"c0":33.5,"c1":34.5,"r0":23.5,"r1":26.5},{"c0":49.5,"c1":50.5,"r0":-0.5,"r1":26.5}]},
  "mark":{"type":"rect","fill":"#0072BC"},
  "encoding":{"x":{"field":"c0","type":"quantitative","scale":{"domain":[-0.5,139.5],"range":[1316.86,3316.06],"nice":false,"zero":false},"axis":null},"x2":{"field":"c1"},
   "y":{"field":"r0","type":"quantitative","scale":{"domain":[-0.5,26.5],"range":[1610,2243.4],"nice":false,"zero":false},"axis":null},"y2":{"field":"r1"}}},
 {"data":{"name":"blueCells"},"mark":{"type":"text","font":"Liberation Mono","fontSize":23.8,"align":"center","baseline":"middle","color":"#ffffff"},
  "encoding":{"x":{"field":"c","type":"quantitative","scale":{"domain":[-0.5,139.5],"range":[1316.86,3316.06],"nice":false,"zero":false},"axis":null},
   "y":{"field":"r","type":"quantitative","scale":{"domain":[-0.5,26.5],"range":[1610,2243.4],"nice":false,"zero":false},"axis":null},"text":{"field":"a"}}},
 {"data":{"name":"logoTiny"},"mark":{"type":"text","font":"Liberation Sans","fontSize":7,"align":"center","baseline":"alphabetic"},
  "encoding":{"x":{"field":"c","type":"quantitative","scale":{"domain":[-0.5,139.5],"range":[1316.86,3316.06],"nice":false,"zero":false},"axis":null},
   "y":{"datum":-0.58,"scale":{"domain":[-0.5,26.5],"range":[1610,2243.4],"nice":false,"zero":false},"axis":null},"text":{"field":"r"},
   "fill":{"field":"r","type":"nominal","scale":{"domain":["A","C","D","E","F","G","H","I","K","L","M","N","P","Q","R","S","T","V","W","Y"],"range":["#9A9A9A","#C8A000","#FF2020","#FF0000","#7A1F00","#8E8E8E","#2A2A9A","#111111","#2A2A9A","#111111","#E8E000","#20A040","#E8C000","#009A70","#1A1A8A","#F0309A","#FF2090","#333333","#000000","#8A4A20"]},"legend":null}}},
 {"data":{"name":"logoMinor"},"mark":{"type":"text","font":"Liberation Sans","fontSize":10,"align":"center","baseline":"alphabetic"},
  "encoding":{"x":{"field":"c","type":"quantitative","scale":{"domain":[-0.5,139.5],"range":[1316.86,3316.06],"nice":false,"zero":false},"axis":null},
   "y":{"datum":-0.8,"scale":{"domain":[-0.5,26.5],"range":[1610,2243.4],"nice":false,"zero":false},"axis":null},"text":{"field":"r"},
   "fill":{"field":"r","type":"nominal","scale":{"domain":["A","C","D","E","F","G","H","I","K","L","M","N","P","Q","R","S","T","V","W","Y"],"range":["#9A9A9A","#C8A000","#FF2020","#FF0000","#7A1F00","#8E8E8E","#2A2A9A","#111111","#2A2A9A","#111111","#E8E000","#20A040","#E8C000","#009A70","#1A1A8A","#F0309A","#FF2090","#333333","#000000","#8A4A20"]},"legend":null}}},
 {"data":{"name":"logo"},"mark":{"type":"text","font":"Liberation Sans","align":"center","baseline":"alphabetic"},
  "encoding":{"x":{"field":"c","type":"quantitative","scale":{"domain":[-0.5,139.5],"range":[1316.86,3316.06],"nice":false,"zero":false},"axis":null},
   "y":{"datum":-1.08,"scale":{"domain":[-0.5,26.5],"range":[1610,2243.4],"nice":false,"zero":false},"axis":null},"text":{"field":"r"},
   "size":{"field":"h","type":"quantitative","scale":{"domain":[0,70],"range":[0,42]},"legend":null},
   "fill":{"field":"r","type":"nominal","scale":{"domain":["A","C","D","E","F","G","H","I","K","L","M","N","P","Q","R","S","T","V","W","Y"],"range":["#9A9A9A","#C8A000","#FF2020","#FF0000","#7A1F00","#8E8E8E","#2A2A9A","#111111","#2A2A9A","#111111","#E8E000","#20A040","#E8C000","#009A70","#1A1A8A","#F0309A","#FF2090","#333333","#000000","#8A4A20"]},"legend":null}}},
 {"data":{"values":[{"t":"442","c":-0.35,"r":27.54},{"t":"450","c":7.98,"r":27.54},{"t":"460","c":18.1,"r":27.54},{"t":"470","c":34.94,"r":27.54},{"t":"480","c":44.9,"r":27.54},{"t":"490","c":55.04,"r":27.54},{"t":"500","c":65.2,"r":27.54},{"t":"510","c":86.1,"r":27.54},{"t":"520","c":98.1,"r":27.54},{"t":"530","c":130.4,"r":27.54},{"t":"539","c":139.2,"r":27.54},{"t":"Human protein amino acid coordinates","c":67.8,"r":29.17}]},
  "mark":{"type":"text","font":"Liberation Sans","fontSize":28,"align":"center","baseline":"middle","color":"#000000"},
  "encoding":{"x":{"field":"c","type":"quantitative","scale":{"domain":[-0.5,139.5],"range":[1316.86,3316.06],"nice":false,"zero":false},"axis":null},
   "y":{"field":"r","type":"quantitative","scale":{"domain":[-0.5,26.5],"range":[1610,2243.4],"nice":false,"zero":false},"axis":null},"text":{"field":"t"}}}
]}
],
"resolve":{"scale":{"x":"independent","y":"independent","color":"independent","fill":"independent","size":"independent"}}
}
